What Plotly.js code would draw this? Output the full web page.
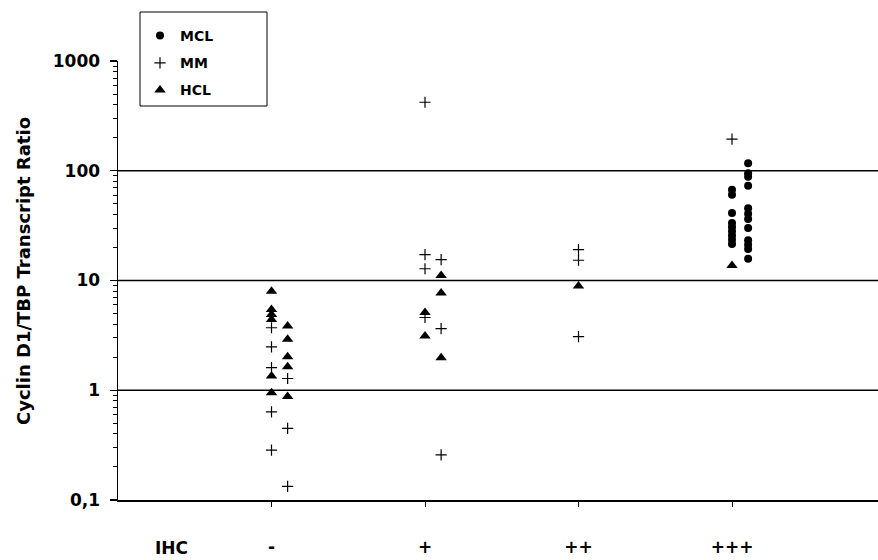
<!DOCTYPE html>
<html>
<head>
<meta charset="utf-8">
<script src="https://cdn.plot.ly/plotly-3.0.1.min.js"></script>
<style>html,body{margin:0;padding:0;background:#fff;}#chart{width:878px;height:560px;}</style>
</head>
<body>
<div id="chart"></div>
<script>
// Categories (IHC score) and tick labels
const categories = [1, 2, 3, 4];
const categoryLabels = ['-', '+', '++', '+++'];
const yTickVals = [0.1, 1, 10, 100, 1000];
const yTickText = ['0,1', '1', '10', '100', '1000'];
const gridValues = [1, 10, 100];

// MCL (circles): category index, column (0 = left, 1 = right), value
const mclCat = [4,4,4,4,4,4,4,4,4, 4,4,4,4,4,4,4,4,4,4,4,4];
const mclCol = [0,0,0,0,0,0,0,0,0, 1,1,1,1,1,1,1,1,1,1,1,1];
const mclVal = [67,60.5,41.2,33.4,30.7,28.1,25.7,23.5,21.5, 117,95,88,73,45.5,40.6,36.3,30.1,23.3,21.2,19.4,15.8];

// MM (crosses)
const mmCat = [1,1,1,1,1, 1,1,1, 2,2,2,2, 2,2,2, 3,3,3, 4];
const mmCol = [0,0,0,0,0, 1,1,1, 0,0,0,0, 1,1,1, 0,0,0, 0];
const mmVal = [3.71,2.48,1.61,0.635,0.285, 1.28,0.45,0.133, 421,17.2,12.8,4.6, 15.5,3.64,0.258, 19.1,15.3,3.08, 194];

// HCL (triangles)
const hclCat = [1,1,1,1,1,1, 1,1,1,1,1, 2,2, 2,2,2, 3, 4];
const hclCol = [0,0,0,0,0,0, 1,1,1,1,1, 0,0, 1,1,1, 0, 0];
const hclVal = [8.0,5.45,4.9,4.42,1.35,0.95, 3.84,2.91,2.02,1.64,0.877, 5.1,3.12, 11.1,7.7,1.98, 8.9, 13.7];

const colOffset = 0.105;
const xs = (cats, cols) => cats.map((c, i) => c + cols[i] * colOffset);

const FONT = 'DejaVu Sans, Liberation Sans, Arial, sans-serif';

const traces = [
  {name: 'MCL', x: xs(mclCat, mclCol), y: mclVal, type: 'scatter', mode: 'markers',
   legendgroup: 'a',
   marker: {symbol: 'circle', size: 8, color: 'black'}},
  {name: 'MM', x: xs(mmCat, mmCol), y: mmVal, type: 'scatter', mode: 'markers',
   legendgroup: 'b',
   marker: {symbol: 'cross-thin', size: 8, color: 'black', line: {color: 'black', width: 1.2}}},
  {name: 'HCL', x: xs(hclCat, hclCol), y: hclVal, type: 'scatter', mode: 'markers',
   legendgroup: 'c',
   marker: {symbol: 'triangle-up', size: 10, color: 'black'}}
];

const minorVals = [];
for (let d = 0.1; d < 1000; d *= 10) {
  for (let k = 2; k <= 9; k++) minorVals.push(+(d * k).toPrecision(3));
}

const shapes = gridValues.map(v => ({
  type: 'line', xref: 'paper', x0: 0, x1: 1, yref: 'y', y0: v, y1: v,
  line: {color: 'black', width: 1.5}, layer: 'below'
}));
// legend frame
shapes.push({type: 'rect', xref: 'paper', yref: 'paper',
  x0: (140 - 118) / 760, x1: (267 - 118) / 760,
  y0: (500 - 106) / 439, y1: (500 - 12) / 439,
  line: {color: 'black', width: 1}, fillcolor: 'rgba(0,0,0,0)'});

const layout = {
  width: 878, height: 560,
  margin: {l: 118, r: 0, t: 61, b: 60},
  paper_bgcolor: 'white', plot_bgcolor: 'white',
  showlegend: true,
  legend: {x: 22 / 760, y: (500 - 20) / 439, xanchor: 'left', yanchor: 'top',
    bgcolor: 'rgba(0,0,0,0)', borderwidth: 0, tracegroupgap: 6,
    font: {family: FONT, size: 14, color: 'black', weight: 'bold'}},
  xaxis: {
    range: [0, 760 / 153.5], showgrid: false, zeroline: false,
    showline: true, linecolor: 'black', linewidth: 1.5,
    tickmode: 'array', tickvals: categories, ticktext: categoryLabels,
    ticks: 'outside', ticklen: 5, tickwidth: 1, tickcolor: 'black',
    ticklabelstandoff: 26,
    tickfont: {family: FONT, size: 17, color: 'black', weight: 'bold'}
  },
  yaxis: {
    type: 'log', range: [-1, 3], showgrid: false, zeroline: false,
    showline: true, linecolor: 'black', linewidth: 1.5,
    tickmode: 'array', tickvals: yTickVals, ticktext: yTickText,
    ticks: 'outside', ticklen: 7, tickwidth: 1.2, tickcolor: 'black',
    ticklabelstandoff: 6,
    tickfont: {family: FONT, size: 17, color: 'black', weight: 'bold'},
    minor: {tickmode: 'array', tickvals: minorVals, ticks: 'outside', ticklen: 4, tickwidth: 1, tickcolor: 'black', showgrid: false}
  },
  shapes: shapes,
  annotations: [
    {text: 'IHC', xref: 'paper', yref: 'paper', x: (171 - 118) / 760, y: (500 - 548) / 439,
     xanchor: 'center', yanchor: 'middle', showarrow: false,
     font: {family: FONT, size: 17, color: 'black', weight: 'bold'}},
    {text: 'Cyclin D1/TBP Transcript Ratio', xref: 'paper', yref: 'paper',
     x: (23 - 118) / 760, y: (500 - 271) / 439, textangle: -90,
     xanchor: 'center', yanchor: 'middle', showarrow: false,
     font: {family: FONT, size: 18, color: 'black', weight: 'bold'}}
  ]
};

Plotly.newPlot('chart', traces, layout, {displayModeBar: false, staticPlot: true});
</script>
</body>
</html>
